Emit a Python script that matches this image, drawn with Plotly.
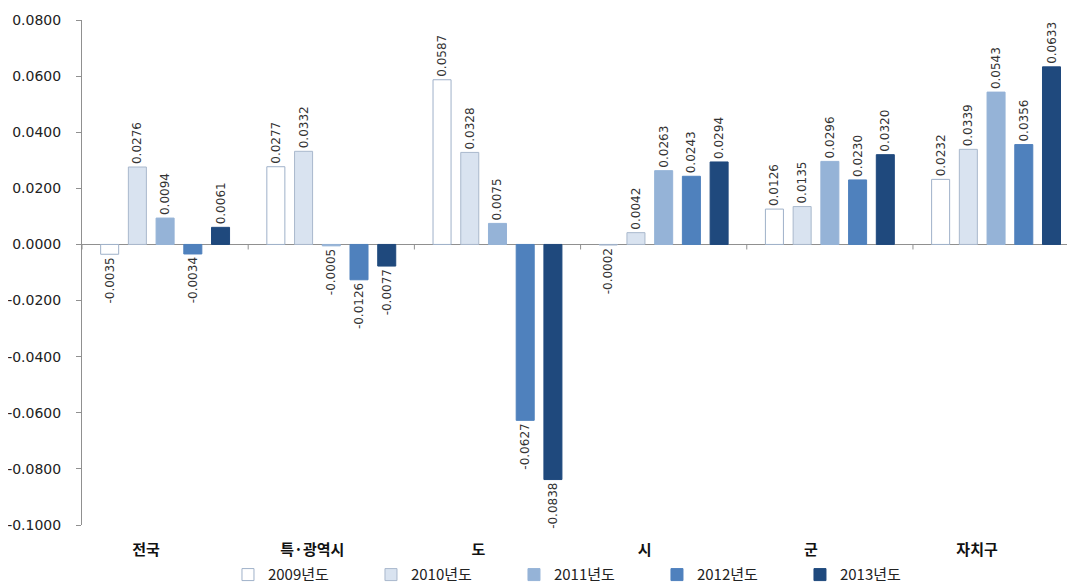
import plotly.graph_objects as go

categories = ["전국", "특·광역시", "도", "시", "군", "자치구"]
years = ["2009년도", "2010년도", "2011년도", "2012년도", "2013년도"]
v2009 = [-0.0035, 0.0277, 0.0587, -0.0002, 0.0126, 0.0232]
v2010 = [0.0276, 0.0332, 0.0328, 0.0042, 0.0135, 0.0339]
v2011 = [0.0094, -0.0005, 0.0075, 0.0263, 0.0296, 0.0543]
v2012 = [-0.0034, -0.0126, -0.0627, 0.0243, 0.0230, 0.0356]
v2013 = [0.0061, -0.0077, -0.0838, 0.0294, 0.0320, 0.0633]
series = [v2009, v2010, v2011, v2012, v2013]
y_ticks = [0.08, 0.06, 0.04, 0.02, 0.0, -0.02, -0.04, -0.06, -0.08, -0.1]
fills = ["#FFFFFF", "#D9E3F0", "#95B3D7", "#4F81BD", "#1F497D"]
borders = ["#9FB1C9", "#A9B8CC", "#95B3D7", "#4F81BD", "#1F497D"]

fig = go.Figure()
for name, vals, fc, bc in zip(years, series, fills, borders):
    fig.add_trace(go.Bar(
        x=categories, y=vals, name=name,
        marker=dict(color=fc, line=dict(color=bc, width=1)),
        text=[f"{v:.4f}" for v in vals],
        textposition="outside", textangle=-90,
        textfont=dict(size=12, color="#333333", family="DejaVu Sans"),
        constraintext="none", cliponaxis=False,
    ))

# boundary ticks on the zero line
shapes = []
for k in range(len(categories) + 1):
    shapes.append(dict(type="line", xref="x", yref="y", x0=k - 0.5, x1=k - 0.5,
                       y0=0, y1=-0.0018, line=dict(color="#909090", width=1)))

fig.update_layout(
    width=1067, height=579,
    margin=dict(l=74, r=0, t=12, b=62, autoexpand=False),
    paper_bgcolor="white", plot_bgcolor="white",
    barmode="group", bargap=0.166, bargroupgap=0.35,
    font=dict(family="Noto Sans CJK KR", color="#222222"),
    shapes=shapes,
    showlegend=True,
    legend=dict(orientation="h", x=0.147, xanchor="left", y=-0.066, yanchor="top",
                font=dict(size=15, color="#222222"),
                entrywidth=98, entrywidthmode="pixels",
                itemwidth=30, traceorder="normal", tracegroupgap=0,
                bgcolor="rgba(0,0,0,0)"),
    xaxis=dict(range=[-0.5, 5.475], showline=False, ticks="", showgrid=False, automargin=False,
               tickfont=dict(size=15, color="#111111", family="Noto Sans CJK KR", weight="bold"),
               ticklabelstandoff=14, ticklabelshift=-19),
    yaxis=dict(range=[-0.1, 0.08], tickvals=y_ticks,
               ticktext=[f"{v:.4f}" for v in y_ticks],
               showgrid=False, showline=True, linecolor="#909090", linewidth=1,
               ticks="outside", ticklen=5, tickcolor="#909090", automargin=False,
               zeroline=True, zerolinecolor="#909090", zerolinewidth=1, ticklabelstandoff=12,
               tickfont=dict(size=14, color="#222222", family="DejaVu Sans")),
)

fig.write_html("out.html")
